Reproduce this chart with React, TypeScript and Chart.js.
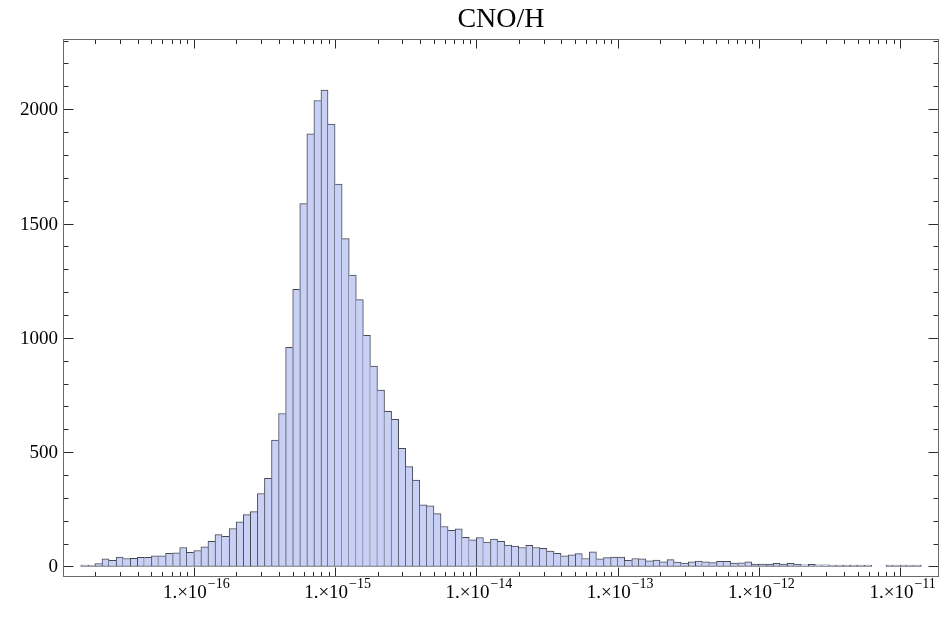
import React, { useEffect, useRef } from 'react';
import { Chart, registerables } from 'chart.js';

Chart.register(...registerables);

// ---------------- data ----------------
const TITLE = 'CNO/H';
// histogram bins are uniform in log10(x): first bin starts at 10^-16.8, each bin is 0.05 decades wide
const BIN_START_EXP = -16.8;
const BIN_WIDTH_EXP = 0.05;
const counts = [
  3, 4, 13, 33, 27, 41, 35, 36, 40, 40,
  47, 47, 57, 60, 83, 62, 70, 86, 110, 139,
  132, 166, 195, 227, 240, 319, 385, 553, 669, 959,
  1212, 1587, 1892, 2038, 2084, 1935, 1673, 1434, 1275, 1167,
  1011, 876, 771, 679, 644, 517, 437, 378, 270, 265,
  231, 175, 158, 165, 127, 117, 126, 107, 120, 110,
  94, 89, 83, 92, 83, 79, 67, 57, 47, 51,
  56, 35, 64, 34, 39, 41, 41, 27, 35, 34,
  25, 28, 20, 30, 19, 15, 20, 24, 20, 17,
  23, 22, 15, 16, 20, 11, 10, 11, 14, 10,
  14, 10, 7, 9, 7, 7, 6, 6, 4, 4,
  4, 3, 0, 0, 2, 2, 6, 2, 2,
];
const xMajorExponents = [-16, -15, -14, -13, -12, -11];
const xMinorDecades = [-17, -16, -15, -14, -13, -12, -11];
const xMinorMultipliers = [2, 3, 4, 5, 6, 7, 8, 9];
const yMajorTicks = [0, 500, 1000, 1500, 2000];
const yMinorTicks = [
  0, 100, 200, 300, 400, 500, 600, 700, 800, 900, 1000, 1100,
  1200, 1300, 1400, 1500, 1600, 1700, 1800, 1900, 2000, 2100, 2200, 2300,
];
const X_MIN_EXP = -16.926;
const X_MAX_EXP = -10.725;
const Y_MIN = -46;
const Y_MAX = 2307;

// ---------------- styles ----------------
const SERIF = '"Liberation Serif", "DejaVu Serif", serif';
const BAR_FILL = '#c9d0f5';
const BAR_EDGE = '#464852';
const FRAME = '#6a6a6a';
const TICK = '#2a2a2a';

const frameAndTicks = {
  id: 'mmaFrame',
  afterDatasetsDraw(chart: any) {
    const { ctx, chartArea: a } = chart;
    const xs = chart.scales.x;
    const ys = chart.scales.y;
    const L = Math.round(a.left) + 0.5;
    const R = Math.round(a.right) - 0.5;
    const T = Math.round(a.top) + 0.5;
    const B = Math.round(a.bottom) - 0.5;
    ctx.save();

    // ticks
    ctx.lineWidth = 1;
    ctx.strokeStyle = TICK;
    ctx.beginPath();
    const vTick = (px: number, len: number) => {
      const x = Math.round(px) + 0.5;
      ctx.moveTo(x, B);
      ctx.lineTo(x, B - len);
      ctx.moveTo(x, T);
      ctx.lineTo(x, T + len);
    };
    const hTick = (py: number, len: number) => {
      const y = Math.round(py) + 0.5;
      ctx.moveTo(L, y);
      ctx.lineTo(L + len, y);
      ctx.moveTo(R, y);
      ctx.lineTo(R - len, y);
    };
    const xMin = Math.pow(10, X_MIN_EXP);
    const xMax = Math.pow(10, X_MAX_EXP);
    xMinorDecades.forEach((e) => {
      xMinorMultipliers.forEach((m) => {
        const v = m * Math.pow(10, e);
        if (v > xMin && v < xMax) vTick(xs.getPixelForValue(v), 4.5);
      });
    });
    xMajorExponents.forEach((e) => vTick(xs.getPixelForValue(Math.pow(10, e)), 9));
    yMinorTicks.forEach((v) => {
      if (!yMajorTicks.includes(v)) hTick(ys.getPixelForValue(v), 5);
    });
    yMajorTicks.forEach((v) => hTick(ys.getPixelForValue(v), 10));
    ctx.stroke();

    // frame
    ctx.strokeStyle = FRAME;
    ctx.strokeRect(L, T, R - L, B - T);

    // y labels
    ctx.fillStyle = '#000';
    ctx.font = `19px ${SERIF}`;
    ctx.textAlign = 'right';
    ctx.textBaseline = 'middle';
    yMajorTicks.forEach((v) => {
      ctx.fillText(String(v), a.left - 5, ys.getPixelForValue(v) + 1);
    });

    // x labels: 1.×10^e
    ctx.textBaseline = 'alphabetic';
    ctx.textAlign = 'left';
    xMajorExponents.forEach((e) => {
      const base = '1.\u00d710';
      const sup = '\u2212' + String(-e);
      ctx.font = `19px ${SERIF}`;
      const wb = ctx.measureText(base).width;
      ctx.font = `14px ${SERIF}`;
      const ws = ctx.measureText(sup).width;
      const cx = xs.getPixelForValue(Math.pow(10, e));
      const x0 = cx - (wb + ws) / 2 + 2;
      ctx.font = `19px ${SERIF}`;
      ctx.fillText(base, x0, 598);
      ctx.font = `14px ${SERIF}`;
      ctx.fillText(sup, x0 + wb + 1, 588);
    });

    // title
    ctx.font = `28px ${SERIF}`;
    ctx.textAlign = 'center';
    ctx.fillText(TITLE, (a.left + a.right) / 2, 27);

    ctx.restore();
  },
};

export default function App() {
  const ref = useRef<HTMLCanvasElement>(null);

  useEffect(() => {
    const points = counts.map((c, i) => ({
      x: Math.pow(10, BIN_START_EXP + (i + 0.5) * BIN_WIDTH_EXP),
      y: c === 0 ? null : c,
    }));
    const chart = new Chart(ref.current as HTMLCanvasElement, {
      type: 'bar',
      data: {
        datasets: [
          {
            data: points as any,
            backgroundColor: BAR_FILL,
            borderColor: BAR_EDGE,
            borderSkipped: false,
            borderWidth: ((c: any) => {
              const i = c.dataIndex;
              const cur = counts[i];
              const prev = counts[i - 1];
              const next = counts[i + 1];
              return {
                top: 1,
                bottom: 1,
                left: prev === undefined || prev < cur ? 1 : 0,
                right: next === undefined || next <= cur ? 1 : 0,
              };
            }) as any,
            minBarLength: 1.5,
            barPercentage: 1,
            categoryPercentage: 1,
          },
        ],
      },
      options: {
        responsive: false,
        animation: false,
        devicePixelRatio: 1,
        layout: { padding: { left: 63, right: 6, top: 39, bottom: 42 } },
        scales: {
          x: {
            type: 'logarithmic',
            min: Math.pow(10, X_MIN_EXP),
            max: Math.pow(10, X_MAX_EXP),
            display: false,
          },
          y: {
            type: 'linear',
            min: Y_MIN,
            max: Y_MAX,
            display: false,
          },
        },
        plugins: {
          legend: { display: false },
          tooltip: { enabled: false },
          title: { display: false },
        },
      },
      plugins: [frameAndTicks],
    });
    return () => chart.destroy();
  }, []);

  return (
    <div style={{ position: 'fixed', left: 0, top: 0, width: 945, height: 619, background: '#fff' }}>
      <canvas ref={ref} width={945} height={619} style={{ display: 'block', width: 945, height: 619 }} />
    </div>
  );
}
